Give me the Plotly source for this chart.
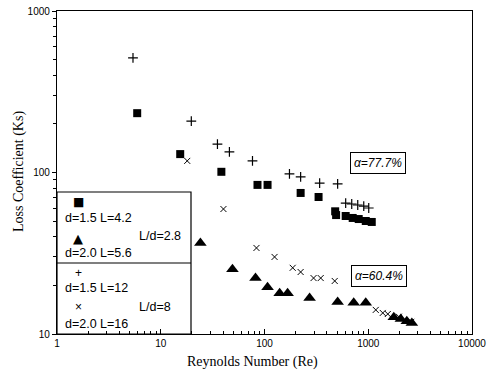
import plotly.graph_objects as go

# Loss coefficient vs Reynolds number for four orifice geometries
re_sq = [5.93, 15.4, 38.4, 85.6, 107, 223, 332, 480, 490, 606, 708, 809, 946, 1081]
ks_sq = [233, 130, 101, 83.8, 83.8, 74.7, 70.5, 57.5, 54.5, 53.8, 52.3, 51.5, 50.1, 49.4]

re_tri = [24.1, 49.1, 81.9, 107, 140, 167, 272, 507, 724, 946, 1763, 2061, 2354, 2632]
ks_tri = [36.6, 25.2, 22.2, 19.5, 17.9, 17.9, 16.7, 15.8, 15.6, 15.6, 12.7, 12.4, 12.0, 11.7]

re_plus = [5.4, 19.7, 35.2, 45.9, 76.6, 174, 223, 340, 507, 606, 693, 792, 905, 1011]
ks_plus = [512, 208, 150, 134, 118, 98, 94, 86, 85, 64.7, 63.8, 62.9, 62.0, 60.3]

re_x = [18.0, 40.2, 83.7, 125, 187, 223, 297, 348, 475, 1181, 1380, 1543, 1972, 2600]
ks_x = [118, 59.4, 34.1, 30.0, 25.7, 24.2, 22.2, 22.2, 21.3, 14.1, 13.5, 13.3, 12.8, 11.9]

x_ticks = [1, 10, 100, 1000, 10000]
y_ticks = [10, 100, 1000]
minor_x = [m * d for d in [1, 10, 100, 1000] for m in range(2, 10)]
minor_y = [m * d for d in [10, 100] for m in range(2, 10)]

fig = go.Figure()
fig.add_trace(go.Scatter(x=re_sq, y=ks_sq, mode="markers",
                         marker=dict(symbol="square", size=8, color="black")))
fig.add_trace(go.Scatter(x=re_tri, y=ks_tri, mode="markers",
                         marker=dict(symbol="triangle-up", size=11, color="black")))
fig.add_trace(go.Scatter(x=re_plus, y=ks_plus, mode="markers",
                         marker=dict(symbol="cross-thin", size=7,
                                     line=dict(width=1.2, color="black"))))
fig.add_trace(go.Scatter(x=re_x, y=ks_x, mode="markers",
                         marker=dict(symbol="x-thin", size=6,
                                     line=dict(width=1.0, color="black"))))

L, R, T, B = 57, 18, 11, 39
W, H = 490, 373
pw, ph = W - L - R, H - T - B


def px(xp):
    return (xp - L) / pw


def py(yp):
    return (H - B - yp) / ph


shapes = [
    dict(type="rect", xref="paper", yref="paper", x0=0, x1=px(191), y0=0, y1=py(192),
         line=dict(color="black", width=1.2)),
    dict(type="line", xref="paper", yref="paper", x0=0, x1=px(191), y0=py(263), y1=py(263),
         line=dict(color="black", width=1.2)),
]

sans = "Liberation Sans, Arial, sans-serif"
serif = "Liberation Serif, Times New Roman, serif"
ann = []


def label(x, y, text, size=12.5, xanchor="left", font=sans, angle=0):
    ann.append(dict(xref="paper", yref="paper", x=px(x), y=py(y), text=text,
                    showarrow=False, xanchor=xanchor, yanchor="middle", textangle=angle,
                    font=dict(family=font, size=size, color="black")))


label(78, 202, "■", size=12, xanchor="center", font="DejaVu Sans")
label(63, 218, "d=1.5 L=4.2")
label(78, 238, "▲", size=13, xanchor="center", font="DejaVu Sans")
label(137, 236, "L/d=2.8")
label(63, 253, "d=2.0 L=5.6")
label(78, 273, "+", size=12, xanchor="center")
label(63, 288, "d=1.5 L=12")
label(78, 307, "×", size=12, xanchor="center")
label(137, 307, "L/d=8")
label(63, 324, "d=2.0 L=16")

# axis titles
label(252, 362, "Reynolds Number (Re)", size=14, xanchor="center", font=serif)
label(19, 172, "Loss Coefficient (Ks)", size=14, xanchor="center", font=serif, angle=-90)

for cx, cy, txt in [(378, 163, "α=77.7%"), (379, 276, "α=60.4%")]:
    ann.append(dict(xref="paper", yref="paper", x=px(cx), y=py(cy), text="<i>" + txt + "</i>",
                    showarrow=False, xanchor="center", yanchor="middle",
                    bordercolor="black", borderwidth=1, borderpad=3, bgcolor="white",
                    font=dict(family=sans, size=12, color="black")))

axis_common = dict(type="log", showgrid=False, zeroline=False, showline=True,
                   linecolor="black", linewidth=1.3, mirror=True, automargin=False,
                   tickfont=dict(family=sans, size=10, color="black"),
                   tickcolor="black")

fig.update_xaxes(**axis_common, range=[0, 4], tickvals=x_ticks,
                 ticktext=[str(v) for v in x_ticks], ticks="inside", ticklen=5,
                 minor=dict(tickvals=minor_x, ticks="inside", ticklen=3, tickcolor="black"))
fig.update_yaxes(**axis_common, range=[1, 3], tickvals=y_ticks,
                 ticktext=[str(v) for v in y_ticks], ticks="outside", ticklen=4,
                 minor=dict(tickvals=minor_y, ticks="outside", ticklen=3, tickcolor="black"))

fig.update_layout(width=W, height=H, margin=dict(l=L, r=R, t=T, b=B),
                  paper_bgcolor="white", plot_bgcolor="white", showlegend=False,
                  shapes=shapes, annotations=ann)

fig.write_html("out.html")
